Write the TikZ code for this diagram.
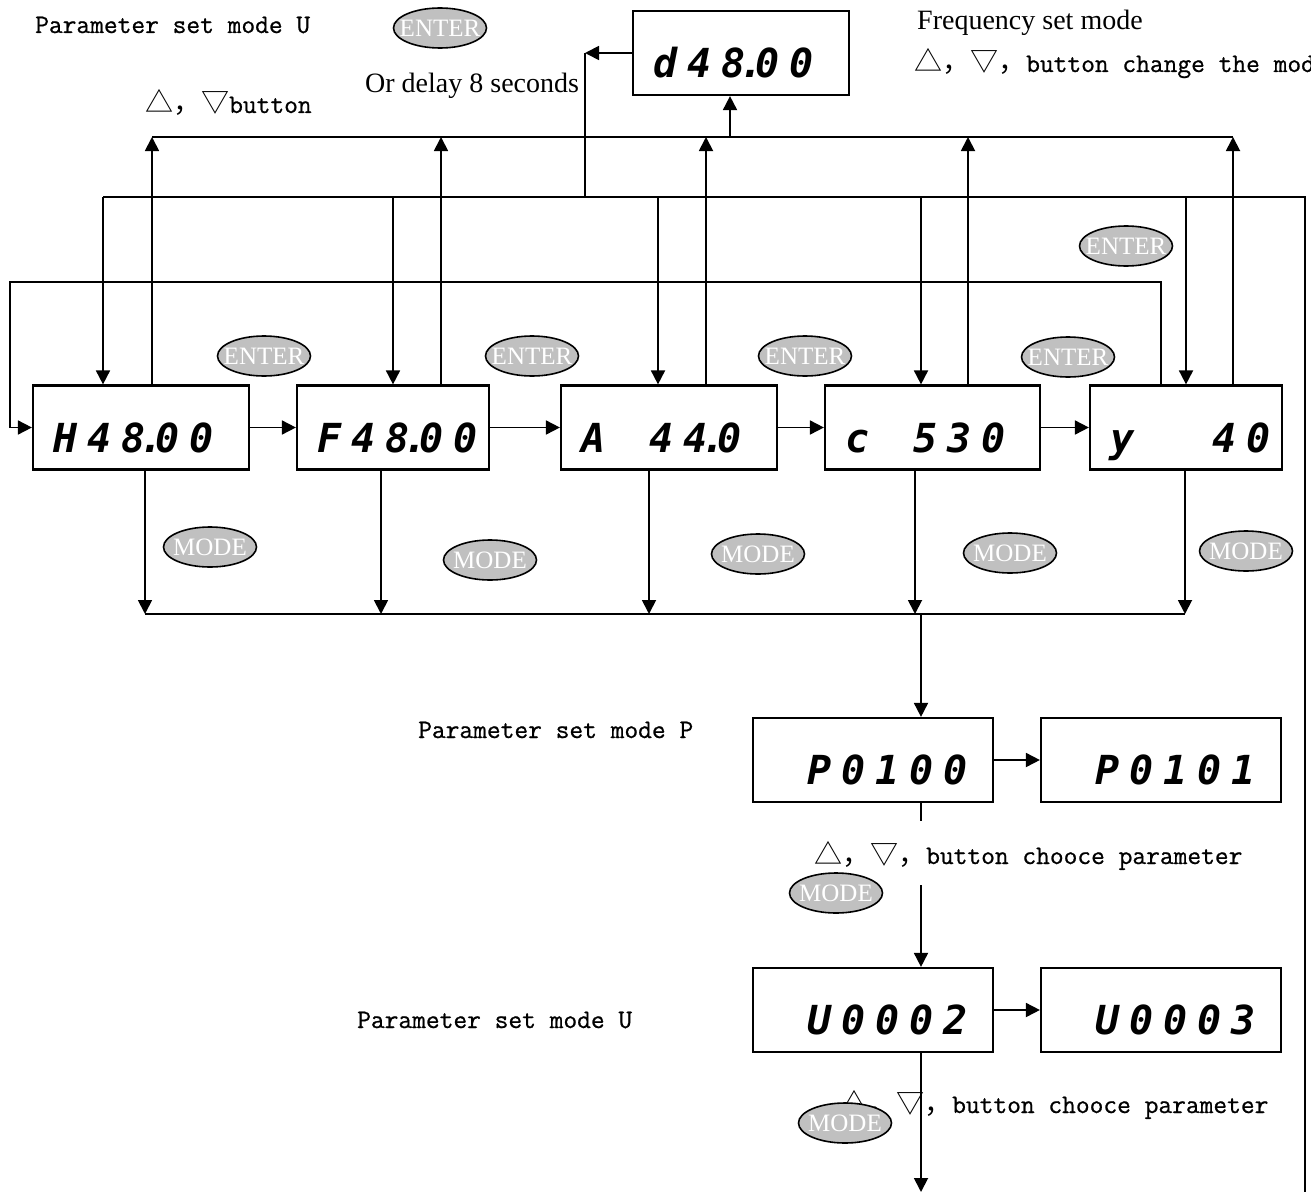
\documentclass[tikz,border=0pt]{standalone}
\usepackage{fontspec}
\setmainfont{Liberation Serif}
\newfontfamily\cjk{Noto Sans CJK SC}
\newfontfamily\segfont{DejaVu Sans Mono}[LetterSpace=25]
\newfontfamily\lblfont{lmmono12-regular.otf}[FakeBold=0.8]
\usetikzlibrary{arrows.meta,shapes.geometric}
\definecolor{keygray}{RGB}{192,192,192}
% decimal point of the display, empty digits, key caption
\newcommand{\sdot}{\kern-.15em.\kern-.2em}
\newcommand{\blank}[1]{\hspace*{#1em}}
\newcommand{\updown}[1]{{\fontsize{28pt}{30pt}\cjk #1}}
\newcommand{\keylabel}[1]{\makebox[0pt]{#1}}

\tikzset{
  display/.style={draw, line width=2.2pt, inner xsep=20pt, inner ysep=0pt,
    minimum height=84pt, text height=49pt, text depth=0pt, align=left,
    font=\fontsize{40pt}{40pt}\segfont\bfseries\itshape},
  btn/.style={ellipse, draw, line width=1.6pt, fill=keygray, text=white,
    minimum width=93pt, minimum height=40pt, inner sep=0pt,
    font=\fontsize{25pt}{25pt}\selectfont},
  mono/.style={font=\fontsize{26.7pt}{30pt}\lblfont, inner sep=0pt, anchor=base west},
  serif/.style={font=\fontsize{28pt}{30pt}\selectfont, inner sep=0pt, anchor=base west}
}

\begin{document}
\begin{tikzpicture}[x=1pt, y=-1pt, >={Triangle[length=14pt,width=14pt]}]
  \useasboundingbox (0,0) rectangle (1311,1196);

  % displays
  \node[display, text width=176pt] (d) at (741,53) {d48\sdot00};
  \node[display, text width=176pt] (H) at (141,427.5) {H48\sdot00};
  \node[display, text width=152pt] (F) at (393,427.5) {F48\sdot00};
  \node[display, text width=176pt] (A) at (669,427.5) {A\blank{1.1}44\sdot0};
  \node[display, text width=175pt] (C) at (932.5,427.5) {c\blank{1.1}530};
  \node[display, text width=152pt] (Y) at (1186,427.5) {y\blank{1.95}40};
  \node[display, inner xsep=54pt, text width=132pt] (P1) at (873,760) {P0100};
  \node[display, inner xsep=54pt, text width=132pt] (P2) at (1161,760) {P0101};
  \node[display, inner xsep=54pt, text width=132pt] (U1) at (873,1010) {U0002};
  \node[display, inner xsep=54pt, text width=132pt] (U2) at (1161,1010) {U0003};

  % texts
  \node[mono] (modeU) at (35,33) {Parameter set mode U};
  \node[serif] (freq) at (917,30) {Frequency set mode};
  \node[mono] (change) at (914,72) {\updown{△，▽，}button change the mode};
  \node[serif] (delay) at (365,93) {Or delay 8 seconds};
  \node[mono] (arrows) at (145,113) {\updown{△，▽}button};
  \node[mono] (modeP) at (418,738) {Parameter set mode P};
  \node[mono] (modeU2) at (357,1028) {Parameter set mode U};
  \node[mono] (choose1) at (814,864) {\updown{△，▽，}button chooce parameter};
  \node[mono] (choose2) at (840,1113) {\updown{△，▽，}button chooce parameter};

  % bus points
  \coordinate (uH) at (152,137);  \coordinate (uF) at (441,137);
  \coordinate (uA) at (706,137);  \coordinate (uC) at (968,137);
  \coordinate (uY) at (1233,137); \coordinate (ud) at (730,137);
  \coordinate (dH) at (103,197);  \coordinate (dF) at (393,197);
  \coordinate (dA) at (658,197);  \coordinate (dC) at (921,197);
  \coordinate (dY) at (1186,197); \coordinate (dT) at (585,197);
  \coordinate (dR) at (1305,197); \coordinate (rB) at (1305,1192);
  \coordinate (back) at (585,53);
  \coordinate (lpR) at (1161,282); \coordinate (lpL) at (10,282);
  \coordinate (bH) at (145,614);  \coordinate (bF) at (381,614);
  \coordinate (bA) at (649,614);  \coordinate (bC) at (915,614);
  \coordinate (bY) at (1185,614); \coordinate (bOut) at (921,614);
  \coordinate (stubA) at (921,821); \coordinate (stubB) at (921,885);
  \coordinate (endU) at (921,1192);

  \begin{scope}[line width=1.8pt]
    % up to the frequency display
    \draw (uH) -- (uY);
    \draw[->] (ud) -- (d.south -| ud);
    \foreach \n in {H,F,A,C,Y}
      \draw[->] (\n.north -| u\n) -- (u\n);
    % back down from the frequency display
    \draw[->] (d.west) -- (back);
    \draw (back) -- (dT);
    \draw (dH) -- (dR) -- (rB);
    \foreach \n in {H,F,A,C,Y}
      \draw[->] (d\n) -- (\n.north -| d\n);
    % ENTER loop from the last display
    \draw[->] (Y.north -| lpR) -- (lpR) -- (lpL) -- (lpL |- H.west) -- (H.west);
    % MODE
    \foreach \n in {H,F,A,C,Y}
      \draw[->] (\n.south -| b\n) -- (b\n);
    \draw (bH) -- (bY);
    \draw[->] (bOut) -- (P1.north -| bOut);
    \draw (P1.south -| stubA) -- (stubA);
    \draw[->] (stubB) -- (U1.north -| stubB);
    \draw[->] (U1.south -| endU) -- (endU);
  \end{scope}

  \begin{scope}[every edge/.style={draw=black, line width=1.8pt, ->}]
    \path (H) edge (F);
    \path (F) edge (A);
    \path (A) edge (C);
    \path (C) edge (Y);
    \path (P1) edge (P2);
    \path (U1) edge (U2);
  \end{scope}

  % keys
  \node[btn] (e0) at (440,28) {\keylabel{ENTER}};
  \node[btn] (e1) at (264,356) {\keylabel{ENTER}};
  \node[btn] (e2) at (532,356) {\keylabel{ENTER}};
  \node[btn] (e3) at (805,356) {\keylabel{ENTER}};
  \node[btn] (e4) at (1068,357) {\keylabel{ENTER}};
  \node[btn] (e5) at (1126,246) {\keylabel{ENTER}};
  \node[btn] (m1) at (210,547) {\keylabel{MODE}};
  \node[btn] (m2) at (490,560) {\keylabel{MODE}};
  \node[btn] (m3) at (758,554) {\keylabel{MODE}};
  \node[btn] (m4) at (1010,553) {\keylabel{MODE}};
  \node[btn] (m5) at (1246,551) {\keylabel{MODE}};
  \node[btn] (m6) at (836,893) {\keylabel{MODE}};
  \node[btn] (m7) at (845,1123) {\keylabel{MODE}};
\end{tikzpicture}
\end{document}
